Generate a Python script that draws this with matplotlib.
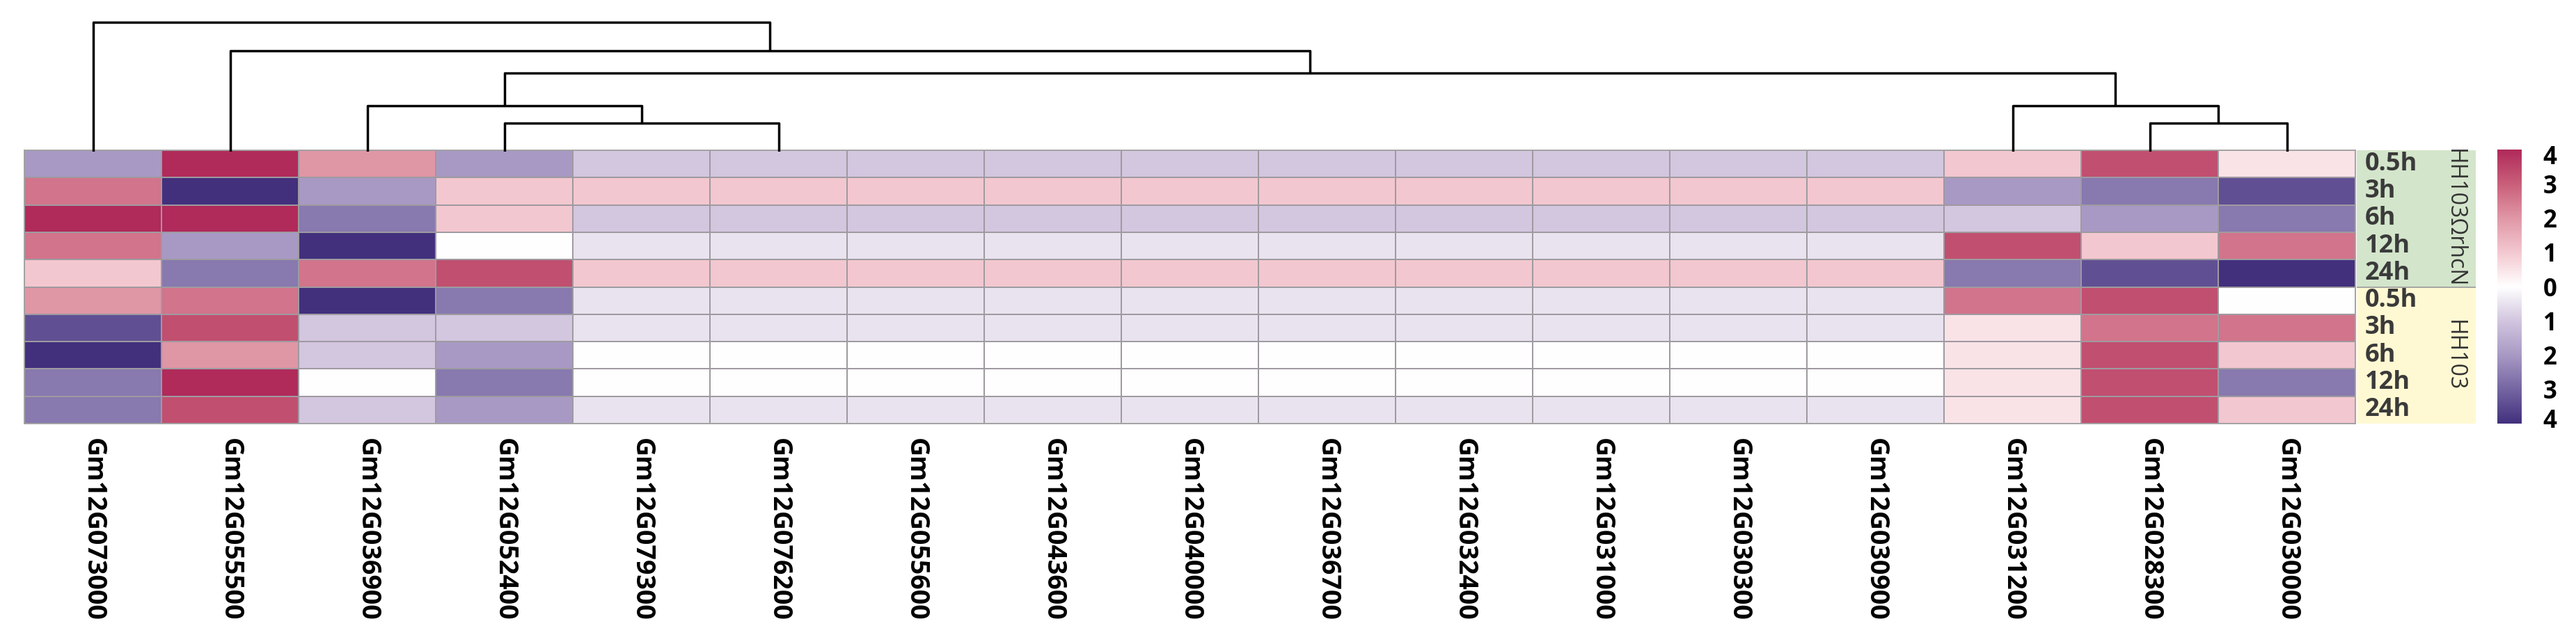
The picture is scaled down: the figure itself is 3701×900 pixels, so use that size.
import matplotlib
matplotlib.use('Agg')
import matplotlib.pyplot as plt
import numpy as np
from matplotlib.colors import LinearSegmentedColormap, Normalize
from matplotlib.cm import ScalarMappable

plt.rcParams['font.family'] = ['Open Sans', 'DejaVu Sans']

genes = ['Gm12G073000', 'Gm12G055500', 'Gm12G036900', 'Gm12G052400',
         'Gm12G079300', 'Gm12G076200', 'Gm12G055600', 'Gm12G043600',
         'Gm12G040000', 'Gm12G036700', 'Gm12G032400', 'Gm12G031000',
         'Gm12G030300', 'Gm12G030900', 'Gm12G031200', 'Gm12G028300',
         'Gm12G030000']
times = ['0.5h', '3h', '6h', '12h', '24h']
groups = ['HH103ΩrhcN', 'HH103']
group_colors = ['#d3e5cb', '#fff9d3']

# one list per sample row (group x time), one value per gene
mutant_05h = [-2, 4, 2, -2, -1, -1, -1, -1, -1, -1, -1, -1, -1, -1, 1, 3.3, 0.5]
mutant_3h = [2.6, -4, -2, 1, 1, 1, 1, 1, 1, 1, 1, 1, 1, 1, -2, -2.6, -3.4]
mutant_6h = [4, 4, -2.6, 1, -1, -1, -1, -1, -1, -1, -1, -1, -1, -1, -1, -2, -2.6]
mutant_12h = [2.6, -2, -4, 0, -0.5, -0.5, -0.5, -0.5, -0.5, -0.5, -0.5, -0.5,
              -0.5, -0.5, 3.3, 1, 2.6]
mutant_24h = [1, -2.6, 2.6, 3.3, 1, 1, 1, 1, 1, 1, 1, 1, 1, 1, -2.6, -3.4, -4]
wild_05h = [2, 2.6, -4, -2.6, -0.5, -0.5, -0.5, -0.5, -0.5, -0.5, -0.5, -0.5,
            -0.5, -0.5, 2.6, 3.3, 0]
wild_3h = [-3.4, 3.3, -1, -1, -0.5, -0.5, -0.5, -0.5, -0.5, -0.5, -0.5, -0.5,
           -0.5, -0.5, 0.5, 2.6, 2.6]
wild_6h = [-4, 2, -1, -2, 0, 0, 0, 0, 0, 0, 0, 0, 0, 0, 0.5, 3.3, 1]
wild_12h = [-2.6, 4, 0, -2.6, 0, 0, 0, 0, 0, 0, 0, 0, 0, 0, 0.5, 3.3, -2.6]
wild_24h = [-2.6, 3.3, -1, -2, -0.5, -0.5, -0.5, -0.5, -0.5, -0.5, -0.5, -0.5,
            -0.5, -0.5, 0.5, 3.3, 1]

cbar_ticks = [-3.85, -3, -2, -1, 0, 1, 2, 3, 3.85]
cbar_labels = ['4', '3', '2', '1', '0', '1', '2', '3', '4']

# column dendrogram: leaf gene index and merges (left, right, height);
# genes 5..14 are identical and hang from a single leaf
leaf_cols = [0, 1, 2, 3, 5, 14, 15, 16]
merges = [(3, 4, 0.91), (6, 7, 0.91), (2, 8, 1.46), (5, 9, 1.46),
          (10, 11, 2.50), (1, 12, 3.21), (0, 13, 4.11)]

data = np.array([mutant_05h, mutant_3h, mutant_6h, mutant_12h, mutant_24h,
                 wild_05h, wild_3h, wild_6h, wild_12h, wild_24h])

cmap = LinearSegmentedColormap.from_list('pp', [
    (0.0, '#42307d'), (0.125, '#7565a2'), (0.25, '#a899c4'),
    (0.375, '#d2c5df'), (0.5, '#ffffff'), (0.625, '#f3c8d0'),
    (0.75, '#e097a6'), (0.875, '#c95f7a'), (1.0, '#b02a5a')])
norm = Normalize(vmin=-4, vmax=4)

W, H = 3701, 900
fig = plt.figure(figsize=(W / 100, H / 100), dpi=100, facecolor='white')


def rect(x0, y0, x1, y1):
    return [x0 / W, 1 - y1 / H, (x1 - x0) / W, (y1 - y0) / H]


# heatmap
ax = fig.add_axes(rect(35, 216, 3384, 609))
n_rows, n_cols = data.shape
ax.pcolormesh(np.arange(n_cols + 1), np.arange(n_rows + 1), data, cmap=cmap,
              norm=norm, edgecolors='#9e9aa0', linewidth=1.3)
ax.set_xlim(0, n_cols)
ax.set_ylim(n_rows, 0)
ax.set_yticks([])
ax.set_xticks(np.arange(n_cols) + 0.5)
ax.set_xticklabels(genes, rotation=270, fontsize=27, fontweight='bold')
ax.tick_params(axis='x', length=0, pad=15)
for s in ax.spines.values():
    s.set_color('#a0a0a0')
    s.set_linewidth(1.3)

# row annotation
ax_a = fig.add_axes(rect(3386, 216, 3557, 609))
ax_a.set_xlim(0, 1)
ax_a.set_ylim(n_rows, 0)
for g, (name, col) in enumerate(zip(groups, group_colors)):
    y0 = g * len(times)
    ax_a.axhspan(y0, y0 + len(times), color=col, lw=0)
    ax_a.text(0.82, y0 + len(times) / 2, name, rotation=270, ha='center',
              va='center', fontsize=23, color='#333333')
    for i, t in enumerate(times):
        ax_a.text(0.07, y0 + i + 0.5, t, ha='left', va='center',
                  fontsize=26, fontweight='bold', color='#3a3a3a')
ax_a.axhline(len(times), color='#a0a0a0', lw=1.3)
ax_a.axis('off')

# colorbar
cax = fig.add_axes(rect(3588, 215, 3623, 609))
cb = fig.colorbar(ScalarMappable(norm=norm, cmap=cmap), cax=cax,
                  ticks=cbar_ticks)
cb.set_ticklabels(cbar_labels)
cb.outline.set_visible(False)
cax.tick_params(length=0, pad=22, labelsize=25)
for lab in cax.get_yticklabels():
    lab.set_fontweight('bold')

# dendrogram
ax_d = fig.add_axes(rect(35, 10, 3384, 218))
ax_d.set_xlim(0, n_cols)
ax_d.set_ylim(0, 4.6)
pos = [c + 0.5 for c in leaf_cols]
hgt = [0.0] * len(leaf_cols)
for a, b, h in merges:
    ax_d.plot([pos[a], pos[a], pos[b], pos[b]], [hgt[a], h, h, hgt[b]],
              color='black', lw=2.5, solid_capstyle='butt')
    pos.append((pos[a] + pos[b]) / 2)
    hgt.append(h)
ax_d.axis('off')

fig.savefig('out.png', dpi=100, facecolor='white')
